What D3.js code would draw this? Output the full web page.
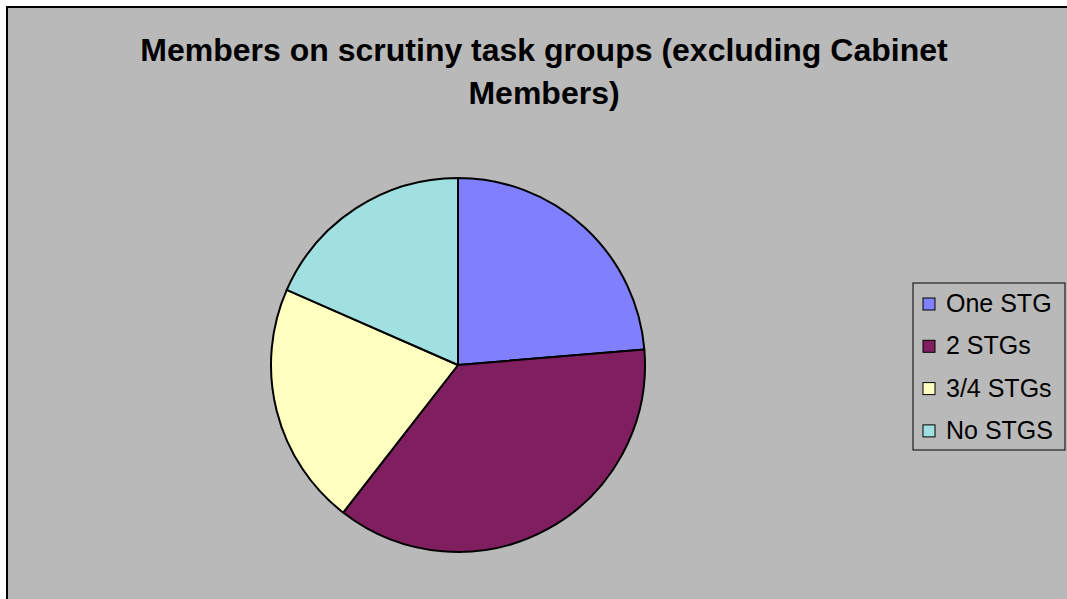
<!DOCTYPE html>
<html>
<head>
<meta charset="utf-8">
<script src="https://cdn.jsdelivr.net/npm/d3@7"></script>
<style>
  body { margin: 0; background: #fff; }
  svg { display: block; font-family: "Liberation Sans", Arial, sans-serif; }
</style>
</head>
<body>
<svg width="1067" height="599"></svg>
<script>
const categories = ['One STG', '2 STGs', '3/4 STGs', 'No STGS'];
const values = [9, 14, 8, 7];
const colors = ['#8080ff', '#801f5f', '#ffffc0', '#a0e0e0'];

const svg = d3.select('svg');
const width = +svg.attr('width');
const height = +svg.attr('height');

// chart area background, frame runs off the right and bottom edges
svg.append('rect')
    .attr('x', 7).attr('y', 7)
    .attr('width', width).attr('height', height)
    .attr('fill', '#b9b9b9')
    .attr('stroke', 'black')
    .attr('stroke-width', 2);

const title = svg.append('text')
    .attr('text-anchor', 'middle')
    .attr('font-weight', 'bold')
    .attr('font-size', 32)
    .attr('fill', 'black');
title.append('tspan').attr('x', 544).attr('y', 61).text('Members on scrutiny task groups (excluding Cabinet');
title.append('tspan').attr('x', 544).attr('y', 104).text('Members)');

const radius = 187;
const g = svg.append('g')
    .attr('transform', 'translate(458, 365)');

const pie = d3.pie().sort(null).value(d => d);
const arc = d3.arc().innerRadius(0).outerRadius(radius);

g.selectAll('path')
    .data(pie(values))
    .join('path')
    .attr('d', arc)
    .attr('fill', (d, i) => colors[i])
    .attr('stroke', 'black')
    .attr('stroke-width', 2)
    .attr('stroke-linejoin', 'round');

// legend
const legend = svg.append('g').attr('transform', 'translate(913, 283)');
legend.append('rect')
    .attr('width', 152).attr('height', 167)
    .attr('fill', '#b9b9b9')
    .attr('stroke', 'black')
    .attr('stroke-width', 1);

const rows = legend.selectAll('g.item')
    .data(categories)
    .join('g')
    .attr('class', 'item')
    .attr('transform', (d, i) => `translate(10, ${20 + i * 42.3})`);

rows.append('rect')
    .attr('x', 0).attr('y', -5)
    .attr('width', 12).attr('height', 12)
    .attr('fill', (d, i) => colors[i])
    .attr('stroke', 'black')
    .attr('stroke-width', 1);

rows.append('text')
    .attr('x', 23).attr('y', 9)
    .attr('font-size', 25)
    .attr('fill', 'black')
    .text(d => d);
</script>
</body>
</html>
